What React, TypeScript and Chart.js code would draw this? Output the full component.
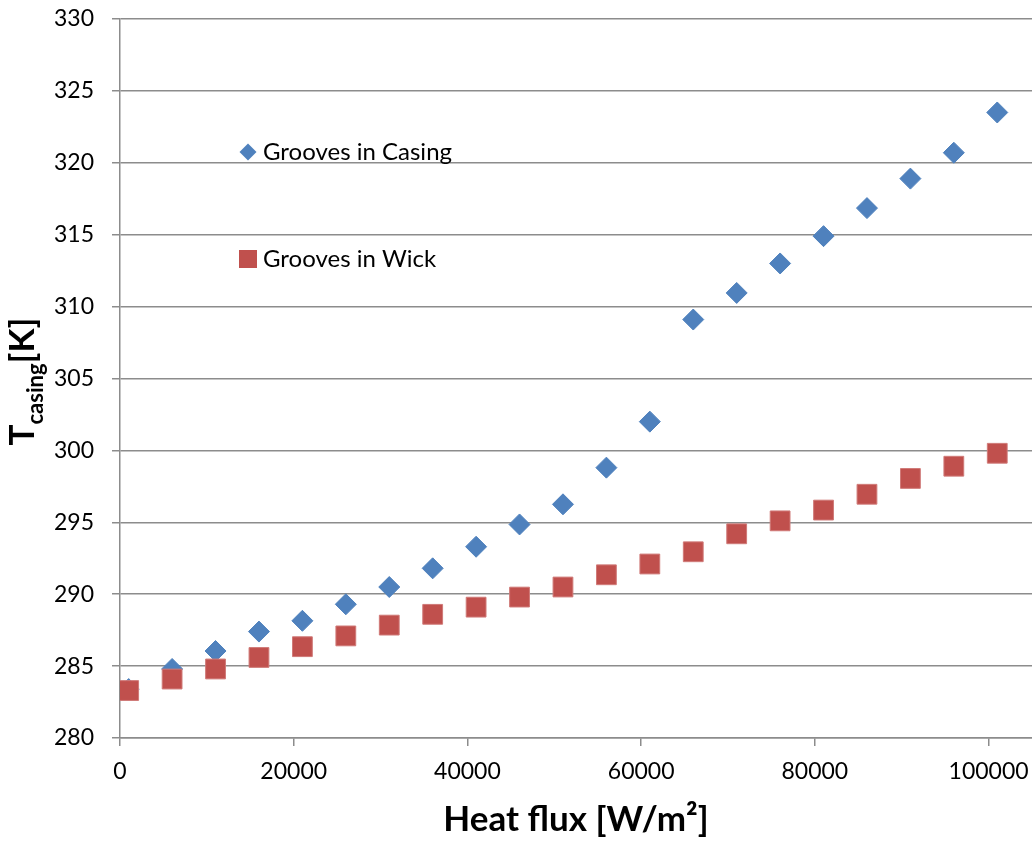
import React, { useEffect, useRef } from "react";
import { Chart, registerables } from "chart.js";

Chart.register(...registerables);

// ---- data ----
const heatFlux = [1000, 6000, 11000, 16000, 21000, 26000, 31000, 36000, 41000, 46000, 51000, 56000, 61000, 66000, 71000, 76000, 81000, 86000, 91000, 96000, 101000];
const groovesInCasing = [283.4, 284.8, 286.05, 287.4, 288.15, 289.3, 290.5, 291.8, 293.3, 294.85, 296.25, 298.8, 302.0, 309.1, 310.95, 313.0, 314.9, 316.85, 318.9, 320.7, 323.5];
const groovesInWick = [283.3, 284.1, 284.8, 285.6, 286.35, 287.1, 287.85, 288.6, 289.1, 289.8, 290.5, 291.35, 292.1, 292.95, 294.2, 295.1, 295.85, 296.95, 298.05, 298.9, 299.8];
const xTickValues = [0, 20000, 40000, 60000, 80000, 100000];
const seriesNames = ["Grooves in Casing", "Grooves in Wick"];
const xTitle = "Heat flux [W/m²]";
const yTitleMain = "T";
const yTitleSub = "casing";
const yTitleUnit = "[K]";

const BLUE = "#4F81BD";
const RED = "#C0504D";
const GRID = "#8c8c8c";
const FONT = "Lato, 'Open Sans', sans-serif";

const overlayPlugin = {
  id: "overlay",
  afterDraw(chart: any) {
    const ctx = chart.ctx as CanvasRenderingContext2D;
    const area = chart.chartArea;
    ctx.save();
    // y-axis title with subscript
    const mainFont = `bold 35px ${FONT}`;
    const subFont = `bold 22px ${FONT}`;
    ctx.font = mainFont;
    const wT = ctx.measureText(yTitleMain).width;
    const wK = ctx.measureText(yTitleUnit).width;
    ctx.font = subFont;
    const wS = ctx.measureText(yTitleSub).width;
    const total = wT + wS + wK;
    const cy = (area.top + area.bottom) / 2 + 3;
    ctx.translate(34, cy);
    ctx.rotate(-Math.PI / 2);
    ctx.fillStyle = "#000";
    ctx.textBaseline = "alphabetic";
    ctx.textAlign = "left";
    let x0 = -total / 2;
    ctx.font = mainFont;
    ctx.fillText(yTitleMain, x0, 0);
    x0 += wT;
    ctx.font = subFont;
    ctx.fillText(yTitleSub, x0, 9);
    x0 += wS;
    ctx.font = mainFont;
    ctx.fillText(yTitleUnit, x0, 0);
    ctx.restore();

    // legend inside plot area
    ctx.save();
    const lx = area.left + 128;
    const ly1 = area.top + 133;
    const ly2 = area.top + 240;
    ctx.fillStyle = BLUE;
    ctx.beginPath();
    ctx.moveTo(lx - 8.5, ly1);
    ctx.lineTo(lx, ly1 - 8.5);
    ctx.lineTo(lx + 8.5, ly1);
    ctx.lineTo(lx, ly1 + 8.5);
    ctx.closePath();
    ctx.fill();
    ctx.fillStyle = RED;
    ctx.fillRect(lx - 9, ly2 - 9, 18, 18);
    ctx.fillStyle = "#000";
    ctx.font = `24px ${FONT}`;
    ctx.textBaseline = "middle";
    ctx.textAlign = "left";
    ctx.fillText(seriesNames[0], lx + 15, ly1);
    ctx.fillText(seriesNames[1], lx + 15, ly2);
    ctx.restore();
  },
};

const clearPadding = (scale: any) => {
  scale.paddingTop = 0;
  scale.paddingBottom = 0;
  scale.paddingLeft = 0;
  scale.paddingRight = 0;
};

export default function App() {
  const ref = useRef<HTMLCanvasElement | null>(null);
  useEffect(() => {
    if (!ref.current) return;
    const chart = new Chart(ref.current, {
      type: "scatter",
      data: {
        datasets: [
          {
            label: seriesNames[0],
            data: heatFlux.map((x, i) => ({ x, y: groovesInCasing[i] })),
            pointStyle: "rectRot",
            pointRadius: 10.5,
            pointHoverRadius: 10.5,
            backgroundColor: BLUE,
            borderColor: BLUE,
            borderWidth: 1,
            showLine: false,
            order: 1,
          },
          {
            label: seriesNames[1],
            data: heatFlux.map((x, i) => ({ x, y: groovesInWick[i] })),
            pointStyle: "rect",
            pointRadius: 14,
            pointHoverRadius: 14,
            backgroundColor: RED,
            borderColor: "#d07a78",
            borderWidth: 1,
            showLine: false,
            order: 0,
          },
        ],
      },
      options: {
        responsive: false,
        animation: false,
        devicePixelRatio: 1,
        layout: { autoPadding: false, padding: { top: 19, right: 0, left: 0, bottom: 0 } },
        plugins: {
          legend: { display: false },
          tooltip: { enabled: false },
        },
        scales: {
          x: {
            type: "linear",
            min: 0,
            max: 105000,
            afterBuildTicks: (scale: any) => {
              scale.ticks = xTickValues.map((v) => ({ value: v }));
            },
            afterFit: (scale: any) => {
              scale.height = 104;
              clearPadding(scale);
            },
            grid: {
              drawOnChartArea: false,
              drawTicks: true,
              tickLength: 8,
              color: GRID,
              lineWidth: 1.5,
            },
            border: { display: true, color: GRID, width: 1.5 },
            ticks: {
              color: "#000",
              font: { family: FONT, size: 23 },
              padding: 12,
              maxRotation: 0,
              callback: (v: any) => String(v),
            },
            title: {
              display: true,
              text: xTitle,
              color: "#000",
              font: { family: FONT, size: 35, weight: "bold" },
              padding: { top: 0, bottom: 1 },
            },
          },
          y: {
            type: "linear",
            min: 280,
            max: 330,
            afterFit: (scale: any) => {
              scale.width = 120;
              clearPadding(scale);
            },
            grid: {
              drawOnChartArea: true,
              drawTicks: true,
              tickLength: 8,
              color: GRID,
              lineWidth: 1.5,
            },
            border: { display: true, color: GRID, width: 1.5 },
            ticks: {
              stepSize: 5,
              color: "#000",
              font: { family: FONT, size: 23 },
              padding: 18,
              callback: (v: any) => String(v),
            },
          },
        },
      },
      plugins: [overlayPlugin],
    } as any);
    return () => chart.destroy();
  }, []);
  return (
    <div style={{ position: "absolute", left: 0, top: 0, width: 1032, height: 842, background: "#fff" }}>
      <canvas ref={ref} width={1032} height={842} style={{ display: "block" }} />
    </div>
  );
}
